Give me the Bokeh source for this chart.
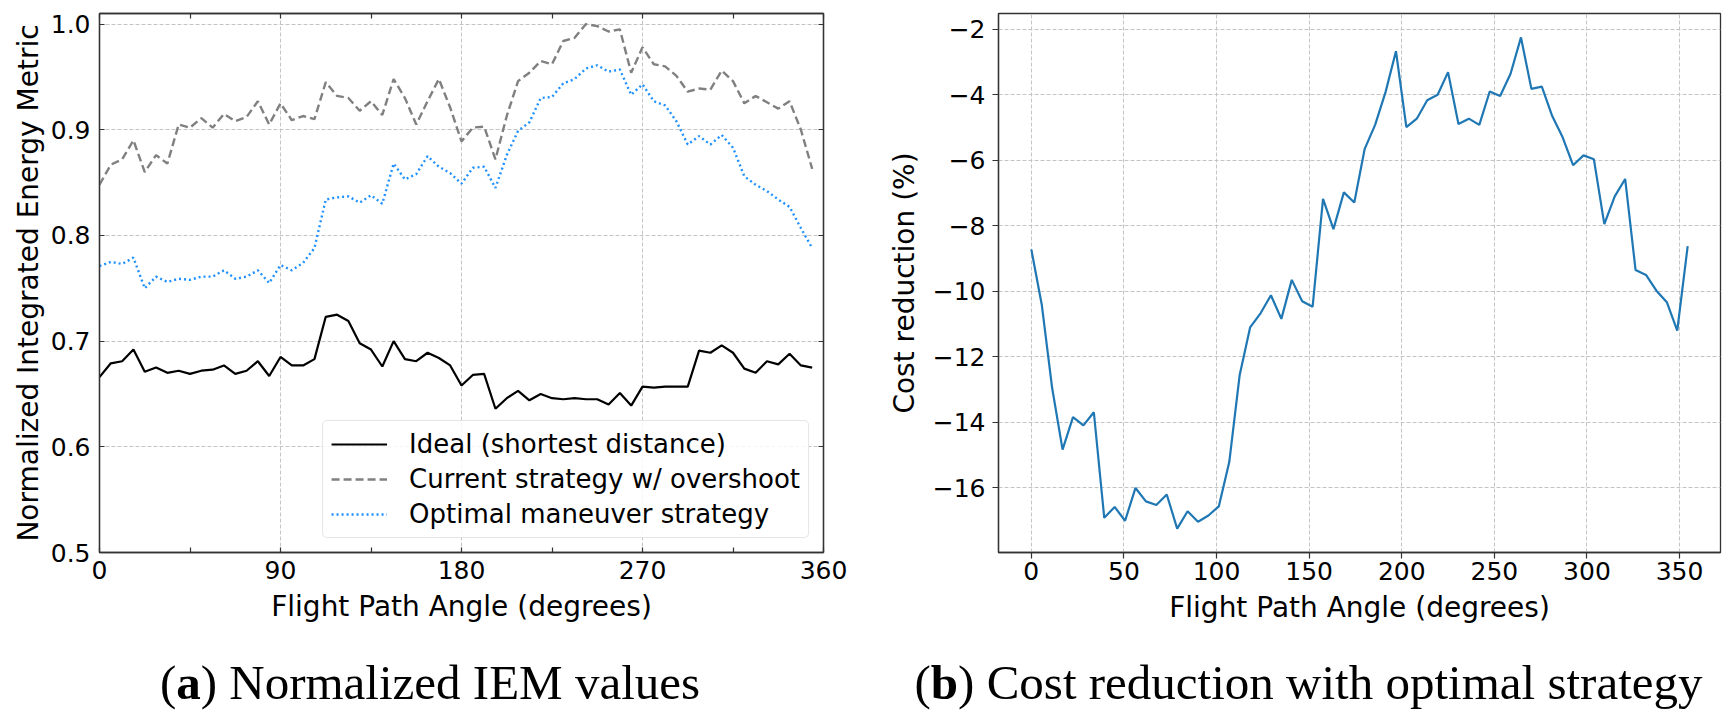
from bokeh.plotting import figure
from bokeh.models import Range1d, FixedTicker, LinearAxis, Div, CustomLabelingPolicy
from bokeh.layouts import row, column
from bokeh.embed import file_html
from bokeh.resources import INLINE

# ---------------- data ----------------
angles = [0.0, 5.625, 11.25, 16.875, 22.5, 28.125, 33.75, 39.375, 45.0, 50.625,
          56.25, 61.875, 67.5, 73.125, 78.75, 84.375, 90.0, 95.625, 101.25, 106.875,
          112.5, 118.125, 123.75, 129.375, 135.0, 140.625, 146.25, 151.875, 157.5, 163.125,
          168.75, 174.375, 180.0, 185.625, 191.25, 196.875, 202.5, 208.125, 213.75, 219.375,
          225.0, 230.625, 236.25, 241.875, 247.5, 253.125, 258.75, 264.375, 270.0, 275.625,
          281.25, 286.875, 292.5, 298.125, 303.75, 309.375, 315.0, 320.625, 326.25, 331.875,
          337.5, 343.125, 348.75, 354.375]

ideal = [0.666, 0.679, 0.681, 0.692, 0.671, 0.675, 0.670, 0.672, 0.669, 0.672,
         0.673, 0.677, 0.669, 0.672, 0.681, 0.667, 0.685, 0.677, 0.677, 0.683,
         0.723, 0.725, 0.719, 0.698, 0.692, 0.676, 0.700, 0.683, 0.681, 0.689,
         0.684, 0.677, 0.658, 0.668, 0.669, 0.636, 0.646, 0.653, 0.644, 0.650,
         0.646, 0.645, 0.646, 0.645, 0.645, 0.640, 0.651, 0.639, 0.657, 0.656,
         0.657, 0.657, 0.657, 0.691, 0.689, 0.696, 0.689, 0.674, 0.670, 0.681,
         0.678, 0.688, 0.677, 0.675]

current = [0.848, 0.867, 0.872, 0.890, 0.860, 0.876, 0.868, 0.905, 0.902, 0.911,
           0.902, 0.915, 0.908, 0.912, 0.927, 0.905, 0.925, 0.909, 0.913, 0.910,
           0.945, 0.932, 0.930, 0.918, 0.927, 0.914, 0.948, 0.930, 0.905, 0.927,
           0.948, 0.921, 0.889, 0.902, 0.903, 0.872, 0.913, 0.946, 0.954, 0.965,
           0.962, 0.984, 0.987, 1.000, 0.998, 0.993, 0.995, 0.954, 0.978, 0.962,
           0.960, 0.951, 0.936, 0.939, 0.938, 0.956, 0.946, 0.925, 0.932, 0.926,
           0.920, 0.927, 0.900, 0.863]

optimal = [0.771, 0.775, 0.773, 0.779, 0.750, 0.761, 0.756, 0.759, 0.758, 0.761,
           0.761, 0.767, 0.759, 0.761, 0.767, 0.755, 0.772, 0.767, 0.774, 0.788,
           0.834, 0.836, 0.837, 0.831, 0.838, 0.830, 0.868, 0.853, 0.858, 0.875,
           0.865, 0.859, 0.849, 0.864, 0.865, 0.845, 0.876, 0.899, 0.907, 0.930,
           0.931, 0.944, 0.948, 0.958, 0.961, 0.955, 0.957, 0.933, 0.943, 0.927,
           0.923, 0.908, 0.886, 0.894, 0.886, 0.895, 0.883, 0.856, 0.848, 0.842,
           0.834, 0.827, 0.807, 0.788]

cost_reduction = [-8.72, -10.4, -12.95, -14.83, -13.84, -14.09, -13.69, -16.91, -16.58, -17.0,
                  -16.0, -16.41, -16.52, -16.2, -17.24, -16.71, -17.03, -16.84, -16.56, -15.21,
                  -12.55, -11.1, -10.67, -10.12, -10.84, -9.65, -10.3, -10.47, -7.18, -8.1,
                  -6.98, -7.29, -5.65, -4.92, -3.92, -2.67, -4.99, -4.73, -4.17, -4.0,
                  -3.31, -4.89, -4.73, -4.92, -3.9, -4.04, -3.36, -2.25, -3.82, -3.75,
                  -4.65, -5.3, -6.15, -5.85, -5.97, -7.95, -7.1, -6.57, -9.35, -9.5,
                  -9.98, -10.33, -11.2, -8.62]

x_ticks_a = [0, 90, 180, 270, 360]
x_minor_a = [45, 135, 225, 315]
y_ticks_a = [0.5, 0.6, 0.7, 0.8, 0.9, 1.0]
y_labels_a = ["0.5", "0.6", "0.7", "0.8", "0.9", "1.0"]
x_ticks_b = [0, 50, 100, 150, 200, 250, 300, 350]
y_ticks_b = [-16, -14, -12, -10, -8, -6, -4, -2]
y_labels_b = ["\u221216", "\u221214", "\u221212", "\u221210", "\u22128", "\u22126", "\u22124", "\u22122"]

legend_labels = ["Ideal (shortest distance)", "Current strategy w/ overshoot", "Optimal maneuver strategy"]
x_title = "Flight Path Angle (degrees)"
y_title_a = "Normalized Integrated Energy Metric"
y_title_b = "Cost reduction (%)"
caption_a = "(<b>a</b>) Normalized IEM values"
caption_b = "(<b>b</b>) Cost reduction with optimal strategy"

FONT = "DejaVu Sans"
TICK_FS = "25px"
LABEL_FS = "28px"
SPINE = "#333333"
GRID = "#c4c4c4"


def style_axis(ax, label=None):
    ax.axis_line_color = SPINE
    ax.axis_line_width = 1.3
    ax.major_tick_line_color = SPINE
    ax.minor_tick_line_color = SPINE
    ax.major_tick_line_width = 1.2
    ax.minor_tick_line_width = 1.2
    ax.major_label_text_font = FONT
    ax.major_label_text_font_size = TICK_FS
    ax.major_label_text_color = "black"
    ax.axis_label_text_font = FONT
    ax.axis_label_text_font_size = LABEL_FS
    ax.axis_label_text_font_style = "normal"
    ax.axis_label_text_color = "black"
    if label is not None:
        ax.axis_label = label


def hide_labels():
    return CustomLabelingPolicy(code="for (const i of indices) indices.unset(i); return indices")


# ---------------- panel (a) ----------------
p1 = figure(title=None, frame_width=724, frame_height=539,
            x_range=Range1d(0, 360), y_range=Range1d(0.5, 1.01),
            output_backend="svg", toolbar_location=None,
            min_border_left=91, min_border_right=37, min_border_top=5, min_border_bottom=80,
            background_fill_color="white", border_fill_color="white")
p1.outline_line_color = SPINE
p1.outline_line_width = 1.3

xt_a = FixedTicker(ticks=x_ticks_a, minor_ticks=x_minor_a)
yt_a = FixedTicker(ticks=y_ticks_a, minor_ticks=[])

for ax in [p1.xaxis[0], p1.yaxis[0]]:
    style_axis(ax)
    ax.major_tick_in = 5
    ax.major_tick_out = 0
    ax.minor_tick_in = 5
    ax.minor_tick_out = 0
p1.xaxis[0].ticker = xt_a
p1.yaxis[0].ticker = yt_a
p1.xaxis[0].axis_label = x_title
p1.yaxis[0].axis_label = y_title_a
p1.xaxis[0].major_label_standoff = 8
p1.xaxis[0].axis_label_standoff = 8
p1.yaxis[0].major_label_standoff = 9
p1.yaxis[0].axis_label_standoff = 3
p1.yaxis[0].major_label_overrides = {v: s for v, s in zip(y_ticks_a, y_labels_a)}

top_ax = LinearAxis(ticker=FixedTicker(ticks=x_ticks_a, minor_ticks=x_minor_a))
right_ax = LinearAxis(ticker=FixedTicker(ticks=y_ticks_a, minor_ticks=[]))
for ax in [top_ax, right_ax]:
    style_axis(ax)
    ax.major_tick_in = 5
    ax.major_tick_out = 0
    ax.minor_tick_in = 5
    ax.minor_tick_out = 0
    ax.major_label_standoff = 0
    ax.major_label_text_font_size = "0px"
    ax.major_label_policy = hide_labels()
p1.add_layout(top_ax, "above")
p1.add_layout(right_ax, "right")

p1.xgrid.ticker = xt_a
p1.ygrid.ticker = yt_a
for g in [p1.xgrid[0], p1.ygrid[0]]:
    g.grid_line_color = GRID
    g.grid_line_dash = "4 2"
    g.grid_line_width = 1

p1.line(angles, ideal, line_color="black", line_width=2.2, legend_label=legend_labels[0])
p1.line(angles, current, line_color="#808080", line_width=2.4, line_dash="8 4",
        legend_label=legend_labels[1])
p1.line(angles, optimal, line_color="#1E90FF", line_width=2.4, line_dash="2 3",
        legend_label=legend_labels[2])

lg = p1.legend[0]
lg.location = "bottom_right"
lg.margin = 14
lg.padding = 8
lg.spacing = 5
lg.glyph_width = 56
lg.glyph_height = 30
lg.label_height = 30
lg.label_standoff = 22
lg.label_text_font = FONT
lg.label_text_font_size = "26px"
lg.label_text_color = "black"
lg.background_fill_color = "white"
lg.background_fill_alpha = 0.85
lg.border_line_color = "#cccccc"
lg.border_line_width = 1.2
lg.border_radius = 5

# ---------------- panel (b) ----------------
p2 = figure(title=None, frame_width=722, frame_height=539,
            x_range=Range1d(-17.72, 372.1), y_range=Range1d(-17.97, -1.52),
            output_backend="svg", toolbar_location=None,
            min_border_left=138, min_border_right=3, min_border_top=5, min_border_bottom=80,
            background_fill_color="white", border_fill_color="white")
p2.outline_line_color = SPINE
p2.outline_line_width = 1.3

xt_b = FixedTicker(ticks=x_ticks_b, minor_ticks=[])
yt_b = FixedTicker(ticks=y_ticks_b, minor_ticks=[])
for ax in [p2.xaxis[0], p2.yaxis[0]]:
    style_axis(ax)
    ax.major_tick_in = 0
    ax.major_tick_out = 6
    ax.minor_tick_in = 0
    ax.minor_tick_out = 0
p2.xaxis[0].ticker = xt_b
p2.yaxis[0].ticker = yt_b
p2.xaxis[0].axis_label = x_title
p2.yaxis[0].axis_label = y_title_b
p2.xaxis[0].major_label_standoff = 3
p2.xaxis[0].axis_label_standoff = 8
p2.yaxis[0].major_label_standoff = 7
p2.yaxis[0].axis_label_standoff = 9
p2.yaxis[0].major_label_overrides = {v: s for v, s in zip(y_ticks_b, y_labels_b)}

p2.xgrid.ticker = xt_b
p2.ygrid.ticker = yt_b
for g in [p2.xgrid[0], p2.ygrid[0]]:
    g.grid_line_color = GRID
    g.grid_line_dash = "4 2"
    g.grid_line_width = 1

p2.line(angles, cost_reduction, line_color="#1f77b4", line_width=2.2)

# ---------------- captions ----------------
cap_style = {"font-family": "'Liberation Serif', 'DejaVu Serif', serif", "font-size": "49px",
             "color": "black", "line-height": "1.15", "white-space": "nowrap"}
div_a = Div(text='<div style="width:852px; text-align:center; position:relative; left:-4px; padding-top:23px">'
                 + caption_a + '</div>',
            width=852, height=82, margin=(0, 0, 0, 0), styles=cap_style)
div_b = Div(text='<div style="width:863px; text-align:center; position:relative; left:17px; padding-top:23px">'
                 + caption_b + '</div>',
            width=863, height=82, margin=(0, 0, 0, 0), styles=cap_style)

layout = column(row(p1, p2), row(div_a, div_b), margin=(8, 0, 0, 8))

with open("out.html", "w") as f:
    f.write(file_html(layout, INLINE, title="IEM comparison"))
